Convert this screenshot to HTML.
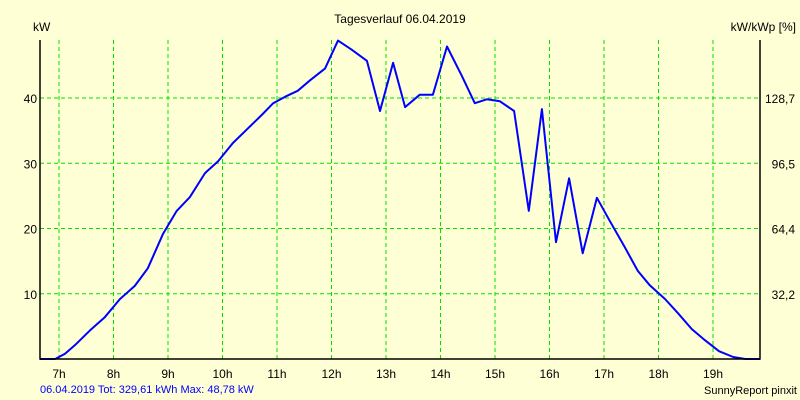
<!DOCTYPE html>
<html><head><meta charset="utf-8"><style>
body{margin:0;background:#ffffd6;}
svg{display:block;font-family:"Liberation Sans",sans-serif;font-size:12px;}
</style></head><body>
<svg id="chart" width="800" height="400" viewBox="0 0 800 400">
<rect x="0" y="0" width="800" height="400" fill="#ffffd6"/>
<text x="400" y="23" text-anchor="middle">Tagesverlauf 06.04.2019</text>
<text x="33" y="31">kW</text>
<text x="796" y="31" text-anchor="end">kW/kWp [%]</text>
<g id="grid"></g>
<g id="labels"></g>
<path id="line" fill="none" stroke="#0000ff" stroke-width="2" stroke-linejoin="round"/>
<path d="M40,40 V359 H760 V40" fill="none" stroke="#000" stroke-width="1.5"/>
<text x="40" y="393" fill="#0000ff" font-size="11">06.04.2019 Tot: 329,61 kWh Max: 48,78 kW</text>
<text x="797" y="394" text-anchor="end" font-size="11">SunnyReport pinxit</text>
</svg>
<script>
const hours = [6.65,6.93,7.11,7.29,7.57,7.84,8.12,8.39,8.63,8.91,9.16,9.40,9.68,9.92,10.19,10.45,10.72,10.93,11.15,11.38,11.62,11.88,12.12,12.37,12.65,12.89,13.13,13.35,13.62,13.86,14.12,14.39,14.63,14.85,15.09,15.35,15.62,15.86,16.12,16.36,16.61,16.87,17.11,17.37,17.62,17.84,18.12,18.36,18.61,18.85,19.11,19.37,19.59,19.86];
const kw = [0,0,0.8,2.1,4.4,6.4,9.2,11.2,13.9,19.2,22.7,24.8,28.5,30.3,33.1,35.2,37.4,39.2,40.2,41.1,42.8,44.5,48.8,47.4,45.7,38.0,45.4,38.6,40.5,40.5,47.9,43.4,39.2,39.8,39.5,38.0,22.7,38.3,17.9,27.7,16.2,24.7,21.1,17.3,13.5,11.3,9.2,7.0,4.6,2.9,1.2,0.3,0,0];
const xTicks = [7,8,9,10,11,12,13,14,15,16,17,18,19];
const yTicks = [10,20,30,40];
const y2Labels = ["32,2","64,4","96,5","128,7"];
const NS="http://www.w3.org/2000/svg";
const xS = h => 59 + (h-7)*54.5;
const yS = v => 359 - v*6.525;
const grid=document.getElementById('grid'), labels=document.getElementById('labels');
function mk(tag,attrs,parent,text){const e=document.createElementNS(NS,tag);for(const k in attrs)e.setAttribute(k,attrs[k]);if(text!==undefined)e.textContent=text;parent.appendChild(e);return e;}
xTicks.forEach(h=>{
  const x=xS(h);
  const l=mk('line',{x1:x,x2:x,y1:40,y2:359,stroke:'#00e000','stroke-dasharray':'4,3'},grid);
  
  
  const t=mk('text',{x:x,y:378,'text-anchor':'middle'},labels,h+'h');
  
  
});
yTicks.forEach((v,i)=>{
  const y=yS(v);
  const l=mk('line',{x1:40,x2:760,y1:y,y2:y,stroke:'#00e000','stroke-dasharray':'4,3'},grid);
  
  
  const t=mk('text',{x:37,y:y+5,'text-anchor':'end'},labels,String(v));
  
  
  const t2=mk('text',{x:795,y:y+5,'text-anchor':'end'},labels,y2Labels[i]);
  
  
});
document.getElementById('line').setAttribute('d',hours.map((h,i)=>(i?'L':'M')+xS(h).toFixed(1)+','+yS(kw[i]).toFixed(1)).join(' '));
</script>
</body></html>
